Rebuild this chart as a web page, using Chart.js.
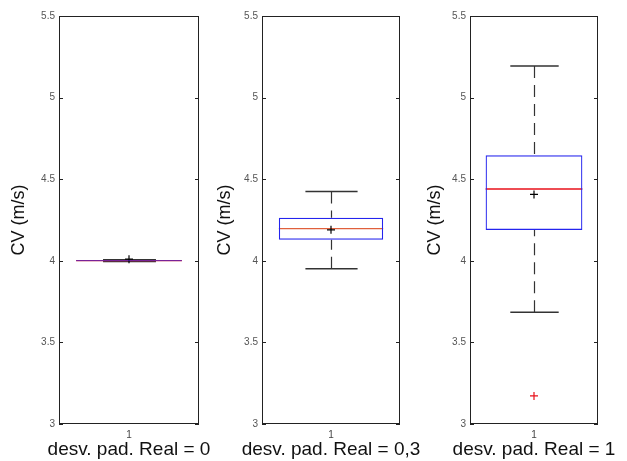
<!DOCTYPE html>
<html>
<head>
<meta charset="utf-8">
<script src="https://cdn.jsdelivr.net/npm/chart.js@4.4.0/dist/chart.umd.min.js"></script>
<style>
    html, body { margin: 0; padding: 0; background: #fff; }
    .panel { position: absolute; top: 0; left: 0; width: 627px; height: 461px; }
</style>
</head>
<body>
<div class="panel"><canvas id="c0"></canvas></div>
<div class="panel"><canvas id="c1"></canvas></div>
<div class="panel"><canvas id="c2"></canvas></div>
<script>
// Data (one box per panel)
const categories = ['1'];
const panelTitles = ['desv. pad. Real = 0', 'desv. pad. Real = 0,3', 'desv. pad. Real = 1'];
const lowerWhisker = [3.996, 3.952, 3.684];
const q1 = [3.997, 4.129, 4.189];
const median = [4.001, 4.197, 4.44];
const q3 = [4.004, 4.264, 4.646];
const upperWhisker = [4.006, 4.424, 5.194];
const means = [4.01, 4.19, 4.407];
const outliers = [[], [], [3.172]];
const yTicks = [3, 3.5, 4, 4.5, 5, 5.5];

// layout / styling per panel (all three canvases overlap the full page)
const padLeft = [0, 203, 411];
const padRight = [428, 227, 29];
const titleOffsets = [8.2, 11.2, 13.2];
const medianColors = ['#e8202a', '#e0603c', '#e8101a'];
const FONT = "Arial, 'Liberation Sans', sans-serif";

// whiskers, caps, median, frame, inner ticks and x title (MATLAB look)
const boxPlugin = {
    id: 'boxWhiskers',
    beforeDatasetsDraw(chart, args, opts) {
        const i = opts.panel;
        const ctx = chart.ctx;
        const y = chart.scales.y;
        const bar = chart.getDatasetMeta(0).data[0];
        const cx = Math.round(bar.x) + 0.5;
        const half = bar.width / 2;
        const capHalf = half / 2;
        ctx.save();
        ctx.strokeStyle = '#333';
        ctx.lineWidth = 1.2;
        ctx.setLineDash([12, 7]);
        ctx.beginPath();
        ctx.moveTo(cx, y.getPixelForValue(upperWhisker[i]));
        ctx.lineTo(cx, y.getPixelForValue(q3[i]));
        ctx.moveTo(cx, y.getPixelForValue(lowerWhisker[i]));
        ctx.lineTo(cx, y.getPixelForValue(q1[i]));
        ctx.stroke();
        ctx.setLineDash([]);
        ctx.lineWidth = 1.5;
        ctx.beginPath();
        [upperWhisker[i], lowerWhisker[i]].forEach(v => {
            const py = y.getPixelForValue(v);
            ctx.moveTo(cx - capHalf, py);
            ctx.lineTo(cx + capHalf, py);
        });
        ctx.stroke();
        ctx.strokeStyle = medianColors[i];
        ctx.lineWidth = 1.3;
        ctx.beginPath();
        const my = y.getPixelForValue(median[i]);
        ctx.moveTo(bar.x - half, my);
        ctx.lineTo(bar.x + half, my);
        ctx.stroke();
        ctx.restore();
    },
    afterDraw(chart, args, opts) {
        const i = opts.panel;
        const ctx = chart.ctx;
        const a = chart.chartArea;
        const y = chart.scales.y;
        ctx.save();
        ctx.strokeStyle = '#222';
        ctx.lineWidth = 1;
        ctx.strokeRect(Math.round(a.left) + 0.5, Math.round(a.top) + 0.5,
            Math.round(a.right - a.left) - 1, Math.round(a.bottom - a.top) - 1);
        ctx.beginPath();
        yTicks.forEach(v => {
            const py = Math.round(y.getPixelForValue(v)) + 0.5;
            ctx.moveTo(a.left, py); ctx.lineTo(a.left + 4, py);
            ctx.moveTo(a.right - 4, py); ctx.lineTo(a.right, py);
        });
        ctx.stroke();
        // x title drawn by hand so it is not squeezed to the plot width
        ctx.fillStyle = '#111';
        ctx.font = '19px ' + FONT;
        ctx.textAlign = 'center';
        ctx.textBaseline = 'middle';
        ctx.fillText(panelTitles[i], (a.left + a.right) / 2, chart.height - 11.5);
        ctx.restore();
    }
};

function makeChart(i) {
    const ctx = document.getElementById('c' + i).getContext('2d');
    return new Chart(ctx, {
        data: {
            labels: categories,
            datasets: [
                {
                    type: 'bar',
                    data: [[q1[i], q3[i]]],
                    backgroundColor: 'rgba(0,0,0,0)',
                    borderColor: '#2424ee',
                    borderWidth: 1.2,
                    borderSkipped: false,
                    barPercentage: 0.756,
                    categoryPercentage: 1
                },
                {
                    type: 'line',
                    data: [means[i]],
                    showLine: false,
                    pointStyle: 'cross',
                    pointRadius: 4,
                    borderColor: '#000',
                    borderWidth: 1.2
                },
                {
                    type: 'line',
                    data: outliers[i].map(v => ({ x: categories[0], y: v })),
                    showLine: false,
                    pointStyle: 'cross',
                    pointRadius: 4,
                    borderColor: '#e8101a',
                    borderWidth: 1.2
                }
            ]
        },
        options: {
            responsive: true,
            maintainAspectRatio: false,
            animation: false,
            events: [],
            layout: { padding: { top: 16, right: padRight[i], bottom: 0, left: padLeft[i] } },
            plugins: {
                legend: { display: false },
                tooltip: { enabled: false },
                boxWhiskers: { panel: i }
            },
            scales: {
                x: {
                    grid: { display: false, drawTicks: false },
                    border: { display: false },
                    ticks: {
                        padding: 5,
                        color: '#444',
                        font: { family: FONT, size: 10 }
                    },
                    afterFit(scale) { scale.height = 37; }
                },
                y: {
                    min: 3,
                    max: 5.5,
                    grid: { display: false, drawTicks: false },
                    border: { display: false },
                    afterBuildTicks(scale) {
                        scale.ticks = yTicks.map(v => ({ value: v }));
                    },
                    ticks: {
                        padding: 4,
                        color: '#555',
                        font: { family: FONT, size: 10 },
                        callback: v => String(v)
                    },
                    title: {
                        display: true,
                        text: 'CV (m/s)',
                        color: '#111',
                        padding: { top: titleOffsets[i], bottom: 0 },
                        font: { family: FONT, size: 18 }
                    },
                    afterFit(scale) { scale.width = 59; }
                }
            }
        },
        plugins: [boxPlugin]
    });
}

[0, 1, 2].forEach(makeChart);
</script>
</body>
</html>
